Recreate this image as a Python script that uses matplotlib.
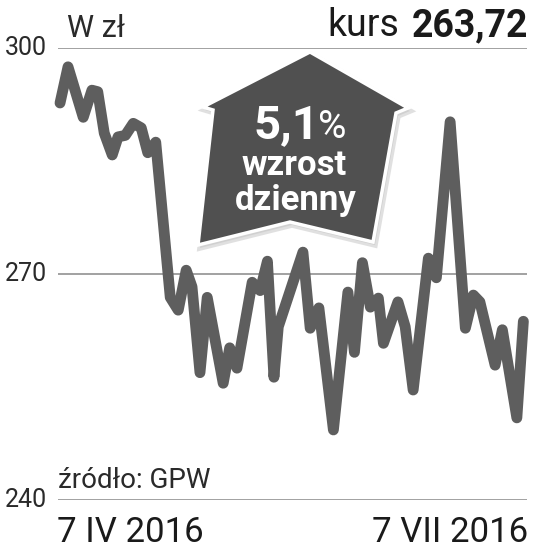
import matplotlib
matplotlib.use('Agg')
import matplotlib.pyplot as plt
import matplotlib.patches as mpatches
import numpy as np

plt.rcParams['font.family'] = ['Roboto', 'DejaVu Sans']

# sesje (numer dnia od 7 IV 2016) i kurs zamkniecia w zl
dni = [0, 1.1, 3.2, 4.4, 5.2, 6.1, 7.2, 8.0, 9.0, 10.1, 11.2, 12.1, 13.2,
       15.2, 16.3, 17.4, 18.2, 19.3, 20.3, 22.5, 23.4, 24.4, 26.5, 27.6, 28.6,
       29.5, 30.1, 33.5, 34.5, 35.7, 37.7, 39.7, 40.6, 41.7, 42.8, 43.9, 44.6,
       46.6, 47.6, 48.7, 50.8, 51.9, 53.8, 55.9, 57.0, 57.9, 60.0, 61.0, 63.0, 63.9]
kurs = [292.7, 297.5, 290.8, 294.4, 294.2, 288.7, 285.8, 288.2, 288.4, 290.0, 289.4, 286.1, 287.5,
        266.9, 265.2, 270.5, 268.3, 256.9, 266.9, 255.5, 260.2, 257.5, 268.9, 267.8, 271.7,
        256.3, 263.0, 272.9, 262.8, 265.5, 249.3, 267.6, 259.6, 271.5, 265.6, 266.8, 260.8,
        266.3, 263.0, 254.6, 272.1, 269.5, 290.2, 262.8, 267.2, 266.3, 257.9, 262.6, 250.9, 263.72]
yticks = [240, 270, 300]
data_od = '7 IV 2016'
data_do = '7 VII 2016'
zmiana = '5,1'

W, H = 533, 551
fig = plt.figure(figsize=(W / 100, H / 100), dpi=100)

def px(x, y):
    return x / W, 1 - y / H

ax = fig.add_axes([58 / W, 51 / H, 469 / W, 452 / H])
ax.set_ylim(240, 300)
ax.set_xlim(-0.28, 64.4)
for s in ax.spines.values():
    s.set_visible(False)
ax.set_xticks([])
ax.set_yticks([])
for t in yticks:
    ax.axhline(t, color='#9a9a9a', lw=1.3, zorder=1)
    ax.text(-0.023, t, str(t), transform=ax.get_yaxis_transform(), ha='right', va='center',
            fontsize=18, color='#2a2a2a')

ax.plot(dni, kurs, color='#5e5e5e', lw=7.8, solid_joinstyle='round',
        solid_capstyle='round', zorder=3, clip_on=False)

# strzalka w gore
strz = [(310, 52), (408, 108), (396, 113), (373, 242), (290, 222),
        (198, 245), (213, 110), (203, 107)]
cien = mpatches.Polygon([px(x + 2, y + 3) for x, y in strz], closed=True, transform=fig.transFigure,
                        facecolor='#bbbbbb', edgecolor='#cccccc', lw=4, alpha=0.6, zorder=5)
fig.patches.append(cien)
poly = mpatches.Polygon([px(x, y) for x, y in strz], closed=True, transform=fig.transFigure,
                        facecolor='#505050', edgecolor='white', lw=2.5, joinstyle='miter', zorder=6)
fig.patches.append(poly)

fig.text(*px(319, 138), zmiana, ha='right', va='baseline', fontsize=34, fontweight='bold',
         color='white', zorder=7)
fig.text(*px(318, 138), '%', ha='left', va='baseline', fontsize=28, color='white', zorder=7)
fig.text(*px(294, 175), 'wzrost', ha='center', va='baseline', fontsize=25, fontweight='bold',
         color='white', zorder=7)
fig.text(*px(296, 210), 'dzienny', ha='center', va='baseline', fontsize=25, fontweight='bold',
         color='white', zorder=7)

# opisy
fig.text(*px(67, 37), 'W zł', ha='left', va='baseline', fontsize=22, color='#2a2a2a')
fig.text(*px(399, 36), 'kurs', ha='right', va='baseline', fontsize=27, color='#1a1a1a')
fig.text(*px(528, 36), '263,72', ha='right', va='baseline', fontsize=27, fontweight='bold', color='#1a1a1a')
fig.text(*px(58, 488), 'źródło: GPW', ha='left', va='baseline', fontsize=20, color='#2a2a2a')
fig.text(*px(57, 542), data_od, ha='left', va='baseline', fontsize=25, color='#1a1a1a')
fig.text(*px(528, 542), data_do, ha='right', va='baseline', fontsize=25, color='#1a1a1a')

fig.savefig('out.png', dpi=100, facecolor='white')
